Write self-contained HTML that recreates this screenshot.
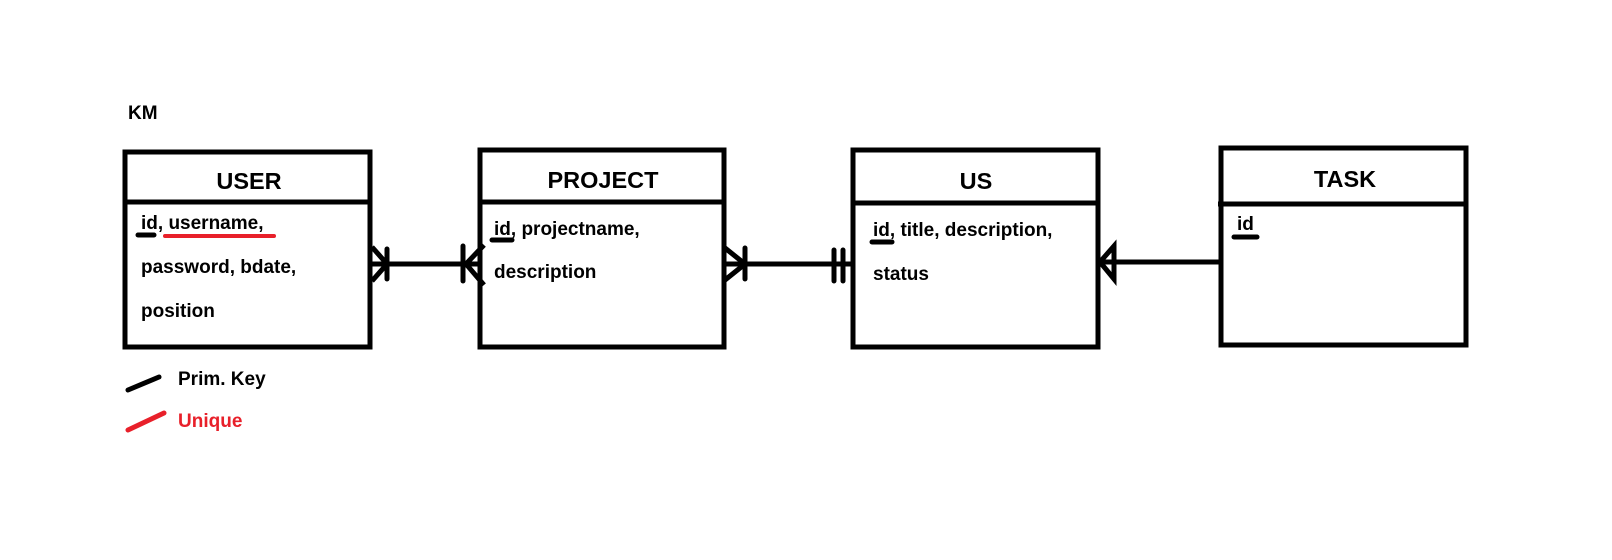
<!DOCTYPE html>
<html><head><meta charset="utf-8"><style>
html,body{margin:0;padding:0;background:#fff;}
svg{display:block;}
text{font-family:"Liberation Sans",Arial,sans-serif;font-weight:bold;fill:#000;}
</style></head><body>
<svg width="1612" height="560" viewBox="0 0 1612 560" xmlns="http://www.w3.org/2000/svg">
<g fill="none" stroke="#000" stroke-width="5">
<rect x="125" y="152" width="245" height="195"/>
<line x1="125" y1="202" x2="370" y2="202"/>
<rect x="480" y="150" width="244" height="197"/>
<line x1="480" y1="202" x2="724" y2="202"/>
<rect x="853" y="150" width="245" height="197"/>
<line x1="853" y1="203" x2="1098" y2="203"/>
<rect x="1221" y="148" width="245" height="197"/>
<line x1="1218" y1="204" x2="1466" y2="204"/>
<line x1="370" y1="264" x2="480" y2="264"/>
<polyline points="372,247 387,264 372,281"/>
<line x1="387" y1="249" x2="387" y2="279" stroke-linecap="round"/>
<polyline points="484,245 466,264 484,285"/>
<line x1="463" y1="246" x2="463" y2="281" stroke-linecap="round"/>
<line x1="724" y1="264" x2="853" y2="264"/>
<polyline points="725,248 745,264 725,280"/>
<line x1="745" y1="248" x2="745" y2="279" stroke-linecap="round"/>
<line x1="834" y1="250" x2="834" y2="281" stroke-linecap="round"/>
<line x1="843" y1="250" x2="843" y2="281" stroke-linecap="round"/>
<line x1="1098" y1="262" x2="1221" y2="262"/>
<polygon points="1100,262 1114,246 1114,279"/>
</g>
<g stroke-linecap="round" stroke-width="5" fill="none">
<line x1="138" y1="235" x2="154" y2="235" stroke="#000"/>
<line x1="165" y1="236" x2="274" y2="236" stroke="#e8202a" stroke-width="4"/>
<line x1="492" y1="240" x2="512" y2="240" stroke="#000"/>
<line x1="872" y1="242" x2="892" y2="242" stroke="#000"/>
<line x1="1234" y1="237" x2="1257" y2="237" stroke="#000"/>
<line x1="128" y1="390" x2="159" y2="377" stroke="#000"/>
<line x1="128" y1="430" x2="164" y2="413" stroke="#e8202a"/>
</g>
<text x="128" y="119" font-size="19">KM</text>
<text x="249" y="189" font-size="23.5" text-anchor="middle">USER</text>
<text x="603" y="188" font-size="23.5" text-anchor="middle">PROJECT</text>
<text x="976" y="189" font-size="23.5" text-anchor="middle">US</text>
<text x="1345" y="187" font-size="23.5" text-anchor="middle">TASK</text>
<g font-size="19">
<text x="141" y="229">id, username,</text>
<text x="141" y="273">password, bdate,</text>
<text x="141" y="317">position</text>
<text x="494" y="235">id, projectname,</text>
<text x="494" y="278">description</text>
<text x="873" y="236">id, title, description,</text>
<text x="873" y="280">status</text>
<text x="1237" y="230">id</text>
<text x="178" y="385">Prim. Key</text>
<text x="178" y="427" style="fill:#e8202a">Unique</text>
</g>
</svg>
</body></html>
